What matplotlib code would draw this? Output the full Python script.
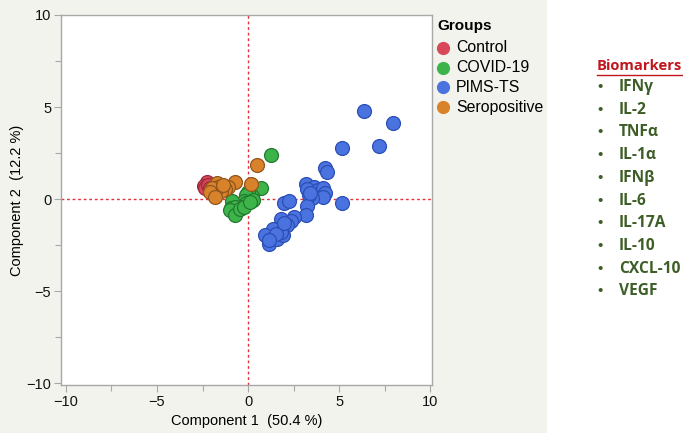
import matplotlib
matplotlib.use('Agg')
import matplotlib.pyplot as plt
from matplotlib.patches import Rectangle
from matplotlib.ticker import MultipleLocator

plt.rcParams['font.family'] = ['Liberation Sans', 'DejaVu Sans']

groups = ['Control', 'COVID-19', 'PIMS-TS', 'Seropositive']
face_colors = ['#d8475a', '#3cb44a', '#4a73e0', '#d8822c']
edge_colors = ['#9c2a3a', '#237a2e', '#2b4fb5', '#92561a']

control_x = [-2.23, -2.41, -2.34, -2.19, -2.10]
control_y = [0.91, 0.73, 0.62, 0.77, 0.58]

covid_x = [1.24, 0.73, 0.18, 0.22, 0.00, -0.13, -0.22, -0.09, -0.36, -0.58,
           -0.88, -0.91, -0.77, -0.69, -1.00, -0.73, -0.46, -0.22, 0.27, 0.09]
covid_y = [2.40, 0.62, 0.00, 0.18, 0.40, 0.22, -0.11, -0.24, -0.42, -0.55,
           -0.11, -0.51, -0.73, -0.42, -0.60, -0.84, -0.55, -0.42, -0.05, -0.18]

pims_x = [6.35, 7.94, 5.15, 7.21, 4.25, 4.31, 3.19, 3.60, 3.25, 3.83,
          4.10, 4.20, 4.10, 3.50, 3.32, 5.15, 1.97, 2.24, 3.25, 3.16,
          2.55, 2.37, 1.82, 2.15, 1.60, 1.37, 0.95, 1.13, 1.28, 1.60,
          1.92, 1.82, 1.55, 1.15, 3.40, 2.00]
pims_y = [4.77, 4.15, 2.77, 2.90, 1.68, 1.46, 0.82, 0.64, 0.53, 0.49,
          0.62, 0.31, 0.13, 0.04, 0.22, -0.24, -0.24, -0.11, -0.36, -0.88,
          -0.97, -1.20, -1.06, -1.42, -1.60, -1.60, -1.97, -2.42, -2.15, -2.15,
          -1.97, -1.79, -1.88, -2.24, 0.35, -1.30]

sero_x = [0.47, 0.15, -0.69, -1.09, -1.28, -1.50, -1.73, -1.82, -1.92, -1.64,
          -2.00, -1.86, -1.37, -2.10, -1.79]
sero_y = [1.86, 0.80, 0.91, 0.67, 0.55, 0.44, 0.86, 0.49, 0.31, 0.67,
          0.58, 0.22, 0.77, 0.40, 0.13]

group_x = [control_x, covid_x, pims_x, sero_x]
group_y = [control_y, covid_y, pims_y, sero_y]

biomarkers = ['IFNγ', 'IL-2', 'TNFα', 'IL-1α', 'IFNβ', 'IL-6', 'IL-17A',
              'IL-10', 'CXCL-10', 'VEGF']

W, H = 683, 433
fig = plt.figure(figsize=(W / 100, H / 100), dpi=100)
fig.patch.set_facecolor('white')
fig.patches.append(Rectangle((0, 0), 547 / W, 1, transform=fig.transFigure,
                             facecolor='#f3f3ee', edgecolor='none', zorder=-10))

ax = fig.add_axes([61 / W, 48 / H, 371 / W, 370 / H])
ax.set_facecolor('white')

for i, g in enumerate(groups):
    ax.scatter(group_x[i], group_y[i], s=100, c=face_colors[i],
               edgecolors=edge_colors[i], linewidths=0.9, zorder=3 + i)

ax.axhline(0, color='#e8303c', lw=1.0, ls=(0, (2, 2)), zorder=2)
ax.axvline(0, color='#e8303c', lw=1.0, ls=(0, (2, 2)), zorder=2)

ax.set_xlim(-10.27, 10.1)
ax.set_ylim(-10.1, 10.0)
ax.xaxis.set_major_locator(MultipleLocator(5))
ax.yaxis.set_major_locator(MultipleLocator(5))
ax.xaxis.set_minor_locator(MultipleLocator(2.5))
ax.yaxis.set_minor_locator(MultipleLocator(2.5))
ax.tick_params(which='both', direction='out', color='#a8a8a8', width=0.8,
               labelsize=10.5, labelcolor='#111111', pad=2)
ax.tick_params(which='major', length=5)
ax.tick_params(which='minor', length=4)
for sp in ax.spines.values():
    sp.set_color('#a8a8a8')
    sp.set_linewidth(1.0)

ax.set_xlabel('Component 1  (50.4 %)', fontsize=10.5, labelpad=4)
ax.set_ylabel('Component 2  (12.2 %)', fontsize=10.5, labelpad=2)

# legend
fig.text(437 / W, 1 - 26 / H, 'Groups', fontsize=11, fontweight='bold',
         va='center', ha='left')
for i, g in enumerate(groups):
    yy = 1 - (48 + 19.7 * i) / H
    fig.lines.append(plt.Line2D([443 / W], [yy], marker='o', ms=8.5,
                                color=face_colors[i], mec=face_colors[i],
                                transform=fig.transFigure))
    fig.text(456 / W, yy, g, fontsize=11.4, va='center', ha='left')

# biomarker list
fig.text(597 / W, 1 - 66 / H, 'Biomarkers', fontsize=10.6, fontweight='bold',
         color='#c0161c', va='center', ha='left', family=['Open Sans', 'DejaVu Sans'])
fig.lines.append(plt.Line2D([597 / W, 682 / W], [1 - 75 / H, 1 - 75 / H],
                            color='#c0161c', lw=1.0, transform=fig.transFigure))
for i, b in enumerate(biomarkers):
    yy = 1 - (87 + 22.7 * i) / H
    fig.text(597 / W, yy, '•', fontsize=11, color='#3d5e27', va='center', ha='left')
    fig.text(619 / W, yy, b, fontsize=11.2, fontweight='bold', color='#3d5e27',
             va='center', ha='left', family=['Open Sans', 'DejaVu Sans'])

fig.savefig('out.png', dpi=100)
